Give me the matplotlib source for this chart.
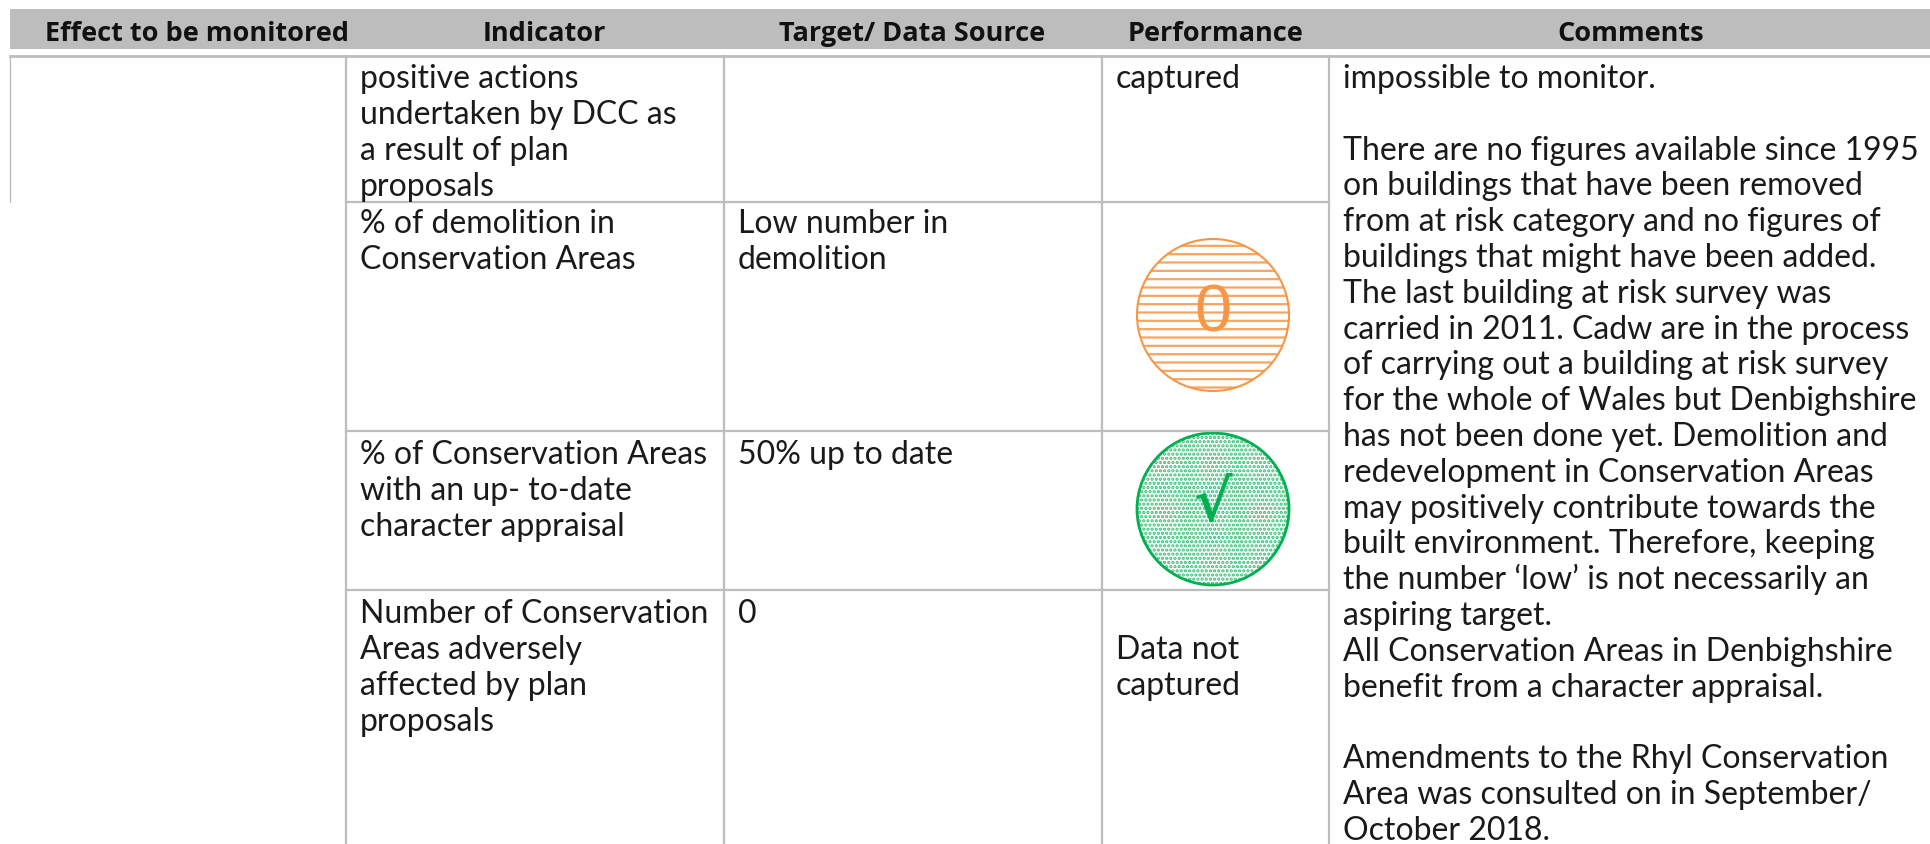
import matplotlib
matplotlib.use('Agg')
import matplotlib.pyplot as plt
from matplotlib.patches import Circle, Rectangle

# Header and cell text
headers = ['Effect to be monitored', 'Indicator', 'Target/ Data Source', 'Performance', 'Comments']

indicator_1 = ['positive actions', 'undertaken by DCC as', 'a result of plan', 'proposals']
indicator_2 = ['% of demolition in', 'Conservation Areas']
indicator_3 = ['% of Conservation Areas', 'with an up- to-date', 'character appraisal']
indicator_4 = ['Number of Conservation', 'Areas adversely', 'affected by plan', 'proposals']

target_2 = ['Low number in', 'demolition']
target_3 = ['50% up to date']
target_4 = ['0']

performance_1 = ['captured']
performance_4 = ['Data not', 'captured']

comments = [
    'impossible to monitor.',
    '',
    'There are no figures available since 1995',
    'on buildings that have been removed',
    'from at risk category and no figures of',
    'buildings that might have been added.',
    'The last building at risk survey was',
    'carried in 2011. Cadw are in the process',
    'of carrying out a building at risk survey',
    'for the whole of Wales but Denbighshire',
    'has not been done yet. Demolition and',
    'redevelopment in Conservation Areas',
    'may positively contribute towards the',
    'built environment. Therefore, keeping',
    "the number \u2018low\u2019 is not necessarily an",
    'aspiring target.',
    'All Conservation Areas in Denbighshire',
    'benefit from a character appraisal.',
    '',
    'Amendments to the Rhyl Conservation',
    'Area was consulted on in September/',
    'October 2018.',
]

GRID = '#bdbdbd'
ORANGE = '#f79646'
GREEN = '#00b050'
BODY_FONT = ['Lato', 'DejaVu Sans']
BODY_SIZE = 23

fig = plt.figure(figsize=(19.3, 8.45), dpi=100)
ax = fig.add_axes([0, 0, 1, 1])
ax.set_xlim(0, 1930)
ax.set_ylim(845, 0)
ax.axis('off')

# Header band
ax.add_patch(Rectangle((10, 10), 1920, 40, facecolor=GRID, edgecolor='none'))
header_x = [197, 544, 912, 1215, 1631]
for x, label in zip(header_x, headers):
    ax.text(x, 34, label, ha='center', va='center', fontsize=19.5,
            fontweight='bold', family=['Open Sans', 'DejaVu Sans'], color='#111111')

# Table rules
ax.plot([10, 1930], [57, 57], color=GRID, lw=2)
for x in [346, 724, 1102, 1329]:
    ax.plot([x, x], [57, 845], color=GRID, lw=1.6)
ax.plot([10, 10], [57, 203], color=GRID, lw=1)
for y in [203, 432, 591]:
    ax.plot([346, 1329], [y, y], color=GRID, lw=1.6)


def put_lines(x, first_baseline, lines, pitch=36):
    for i, line in enumerate(lines):
        ax.text(x, first_baseline + pitch * i, line, ha='left', va='baseline',
                fontsize=BODY_SIZE, family=BODY_FONT, color='#1a1a1a')


put_lines(360, 88, indicator_1)
put_lines(360, 233, indicator_2)
put_lines(360, 464, indicator_3)
put_lines(360, 623, indicator_4)
put_lines(738, 233, target_2)
put_lines(738, 464, target_3)
put_lines(738, 623, target_4)
put_lines(1116, 88, performance_1)
put_lines(1116, 659, performance_4)
# the last comment line sits right on the bottom edge
put_lines(1343, 88, comments, pitch=35.8)

# Performance symbols
plt.rcParams['hatch.linewidth'] = 1.6
ax.add_patch(Circle((1213, 316), 76, facecolor='white', edgecolor=ORANGE, lw=0, hatch='--', alpha=0.85))
ax.add_patch(Circle((1213, 316), 76, facecolor='none', edgecolor=ORANGE, lw=1.5))
ax.text(1213, 315, '0', ha='center', va='center', fontsize=48, color=ORANGE,
        family=['Liberation Sans', 'DejaVu Sans'])

ax.add_patch(Circle((1213, 510), 76, facecolor='white', edgecolor=GREEN, lw=0, hatch='....', alpha=0.8))
ax.add_patch(Circle((1213, 510), 76, facecolor='none', edgecolor=GREEN, lw=2))
ax.text(1213, 505, '\u221a', ha='center', va='center', fontsize=42, color=GREEN,
        fontweight='bold', family=['DejaVu Serif', 'DejaVu Sans'])

fig.savefig('out.png', dpi=100)
